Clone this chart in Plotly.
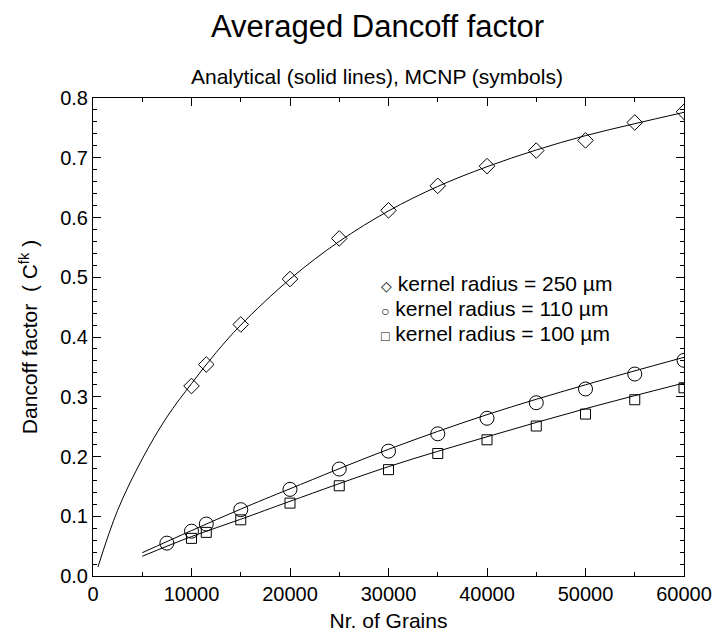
import plotly.graph_objects as go

# MCNP results (symbols)
grains_250 = [10000, 11500, 15000, 20000, 25000, 30000, 35000, 40000, 45000, 50000, 55000, 60000]
mcnp_250 = [0.318, 0.354, 0.421, 0.497, 0.565, 0.612, 0.653, 0.686, 0.712, 0.729, 0.759, 0.777]

grains_110 = [7500, 10000, 11500, 15000, 20000, 25000, 30000, 35000, 40000, 45000, 50000, 55000, 60000]
mcnp_110 = [0.055, 0.075, 0.087, 0.111, 0.145, 0.179, 0.209, 0.238, 0.264, 0.290, 0.313, 0.338, 0.361]

grains_100 = [10000, 11500, 15000, 20000, 25000, 30000, 35000, 40000, 45000, 50000, 55000, 60000]
mcnp_100 = [0.063, 0.073, 0.094, 0.122, 0.151, 0.178, 0.205, 0.228, 0.251, 0.271, 0.295, 0.315]

# Analytical results (solid lines)
curve_x_250 = [500, 2500, 5000, 7500, 10000, 12500, 15000, 20000, 25000, 30000,
               35000, 40000, 45000, 50000, 55000, 60000]
curve_y_250 = [0.015, 0.110, 0.196, 0.266, 0.322, 0.374, 0.420, 0.497, 0.560, 0.611,
               0.652, 0.685, 0.713, 0.737, 0.757, 0.776]

curve_x_110 = [5000, 10000, 15000, 20000, 30000, 40000, 50000, 60000]
curve_y_110 = [0.039, 0.076, 0.112, 0.146, 0.212, 0.270, 0.320, 0.366]

curve_x_100 = [5000, 10000, 15000, 20000, 30000, 40000, 50000, 60000]
curve_y_100 = [0.033, 0.066, 0.095, 0.125, 0.183, 0.233, 0.280, 0.323]

legend_symbols = ["\u25C7", "\u25CB", "\u25A1"]
legend_labels = ["kernel radius = 250 \u00B5m",
                 "kernel radius = 110 \u00B5m",
                 "kernel radius = 100 \u00B5m"]

FONT = "Liberation Sans, Arial, Helvetica, sans-serif"

fig = go.Figure()

for cx, cy in [(curve_x_250, curve_y_250), (curve_x_110, curve_y_110), (curve_x_100, curve_y_100)]:
    fig.add_trace(go.Scatter(x=cx, y=cy, mode="lines", line=dict(color="black", width=1),
                             line_shape="spline", showlegend=False, hoverinfo="skip"))

for gx, gy, sym, size in [(grains_250, mcnp_250, "diamond-open", 12),
                          (grains_110, mcnp_110, "circle-open", 14),
                          (grains_100, mcnp_100, "square-open", 10)]:
    fig.add_trace(go.Scatter(x=gx, y=gy, mode="markers", showlegend=False,
                             marker=dict(symbol=sym, size=size, color="black",
                                         line=dict(color="black", width=1))))

# legend block drawn as text lines with a small symbol glyph in front
for i, (sym, txt) in enumerate(zip(legend_symbols, legend_labels)):
    fig.add_annotation(x=0.484, y=0.611 - i * 0.052, xref="paper", yref="paper",
                       text=f"<span style='font-size:14px'>{sym}</span> {txt}",
                       showarrow=False, xanchor="left", yanchor="middle",
                       font=dict(size=21, color="black", family=FONT))

fig.add_annotation(x=0.481, y=1.149, xref="paper", yref="paper", yanchor="middle",
                   text="Averaged Dancoff factor", showarrow=False,
                   font=dict(size=31, color="black", family=FONT))
fig.add_annotation(x=0.481, y=1.045, xref="paper", yref="paper", yanchor="middle",
                   text="Analytical (solid lines), MCNP (symbols)", showarrow=False,
                   font=dict(size=21, color="black", family=FONT))

axis_common = dict(
    showline=True, linecolor="black", linewidth=1, mirror="allticks",
    ticks="inside", ticklen=8, tickwidth=1, tickcolor="black",
    showgrid=False, zeroline=False,
    tickfont=dict(size=20, color="black", family=FONT),
)

fig.update_xaxes(range=[0, 60000], tickmode="linear", tick0=0, dtick=10000, tickformat="d",
                 minor=dict(dtick=5000, ticks="inside", ticklen=4, tickcolor="black"),
                 title=dict(text="Nr. of Grains", font=dict(size=21, color="black", family=FONT),
                            standoff=9),
                 **axis_common)
fig.update_yaxes(range=[0, 0.8], tickmode="linear", tick0=0, dtick=0.1, tickformat=".1f",
                 minor=dict(dtick=0.02, ticks="inside", ticklen=4, tickcolor="black"),
                 title=dict(text="Dancoff factor  ( C<sup>fk</sup> )",
                            font=dict(size=21, color="black", family=FONT), standoff=16),
                 **axis_common)

fig.update_layout(
    width=724, height=641,
    margin=dict(l=93, r=32, t=98, b=54),
    plot_bgcolor="white", paper_bgcolor="white",
    font=dict(family=FONT, color="black"),
)

fig.write_html("out.html")
